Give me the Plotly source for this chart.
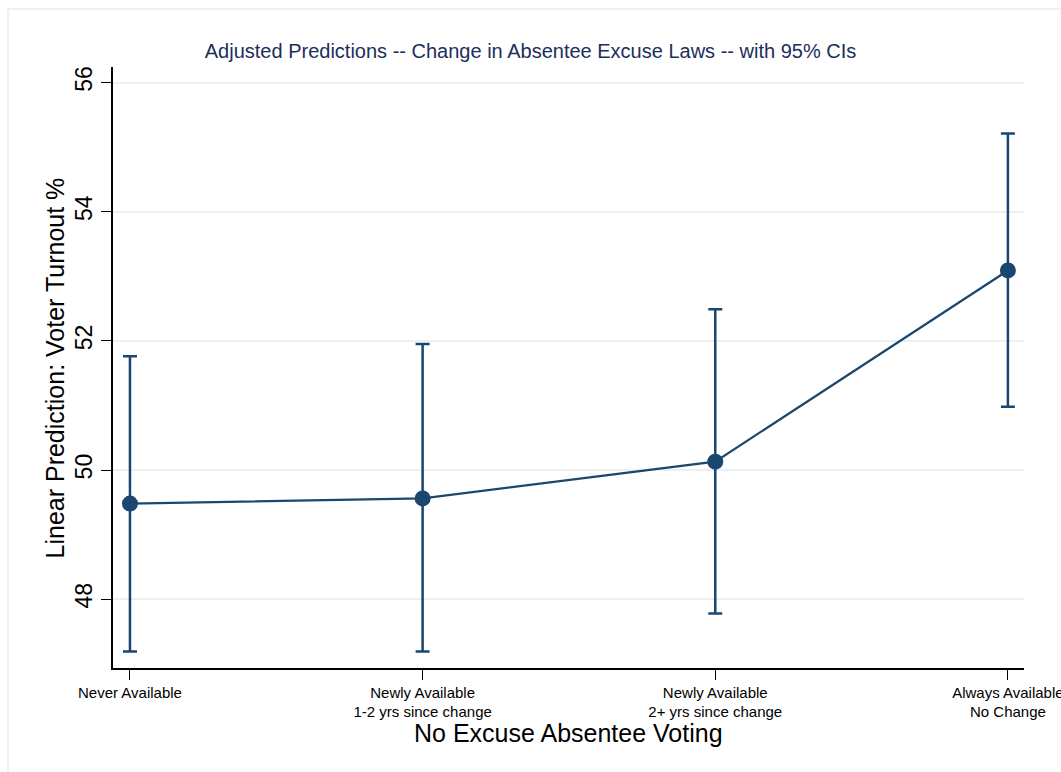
import plotly.graph_objects as go

# Adjusted predictions of voter turnout by no-excuse absentee voting status
categories = [
    "Never Available",
    "Newly Available<br>1-2 yrs since change",
    "Newly Available<br>2+ yrs since change",
    "Always Available<br>No Change",
]
predicted = [49.48, 49.56, 50.13, 53.09]
ci_upper = [51.76, 51.95, 52.49, 55.21]
ci_lower = [47.19, 47.19, 47.78, 50.98]
y_ticks = [48, 50, 52, 54, 56]

x_pos = list(range(len(categories)))
err_plus = [u - p for u, p in zip(ci_upper, predicted)]
err_minus = [p - l for p, l in zip(predicted, ci_lower)]

navy = "#1a476f"
font_family = "Liberation Sans, Arial, Helvetica, sans-serif"

fig = go.Figure()
fig.add_trace(go.Scatter(
    x=x_pos,
    y=predicted,
    mode="lines+markers",
    line=dict(color=navy, width=2.2),
    marker=dict(color=navy, size=16),
    error_y=dict(
        type="data",
        symmetric=False,
        array=err_plus,
        arrayminus=err_minus,
        color=navy,
        thickness=2.5,
        width=7,
    ),
    showlegend=False,
))

# Light outer frame of the graph region
fig.add_shape(type="line", xref="paper", yref="paper",
              x0=-0.1153, y0=1.0965, x1=1.06, y1=1.0965,
              line=dict(color="#e6edf1", width=1.5))
fig.add_shape(type="line", xref="paper", yref="paper",
              x0=-0.1153, y0=1.0965, x1=-0.1153, y1=-0.2,
              line=dict(color="#e6edf1", width=1.5))

# Axis titles
fig.add_annotation(text="No Excuse Absentee Voting", xref="paper", yref="paper",
                   x=0.5, y=-0.108, xanchor="center", yanchor="middle",
                   showarrow=False, font=dict(size=25, color="black"))
fig.add_annotation(text="Linear Prediction: Voter Turnout %", xref="paper", yref="paper",
                   x=-0.0637, y=0.5, xanchor="center", yanchor="middle", textangle=-90,
                   showarrow=False, font=dict(size=25, color="black"))

fig.update_layout(
    width=1061,
    height=772,
    margin=dict(l=113, r=37, t=67, b=104, autoexpand=False),
    paper_bgcolor="white",
    plot_bgcolor="white",
    font=dict(family=font_family, color="black"),
    title=dict(
        text="Adjusted Predictions -- Change in Absentee Excuse Laws -- with 95% CIs",
        x=0.5, xref="container", xanchor="center",
        y=1 - 51 / 772, yanchor="middle",
        font=dict(size=20, color="#1c2e5c", family=font_family),
    ),
    xaxis=dict(
        range=[-0.058, 3.055],
        tickmode="array",
        tickvals=x_pos,
        ticktext=categories,
        tickfont=dict(size=15),
        ticklabeloverflow="allow",
        ticks="outside",
        ticklen=10,
        tickwidth=1.2,
        tickcolor="black",
        showline=True,
        linecolor="black",
        linewidth=1.5,
        showgrid=False,
        zeroline=False,
        automargin=False,
    ),
    yaxis=dict(
        range=[46.935, 56.24],
        tickmode="array",
        tickvals=y_ticks,
        ticktext=[str(v) for v in y_ticks],
        tickangle=-90,
        tickfont=dict(size=23),
        ticks="outside",
        ticklen=10,
        tickwidth=1.2,
        tickcolor="black",
        showline=True,
        linecolor="black",
        linewidth=1.5,
        showgrid=True,
        gridcolor="#eaf1f3",
        gridwidth=1.5,
        zeroline=False,
        automargin=False,
    ),
)

fig.write_html("out.html")
